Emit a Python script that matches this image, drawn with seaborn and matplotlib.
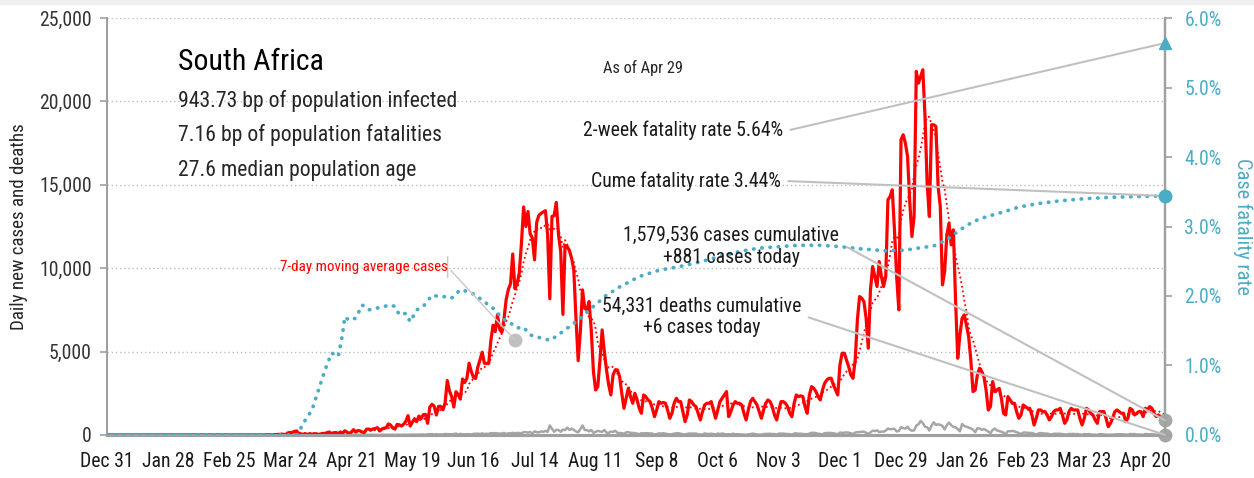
import matplotlib
matplotlib.use("Agg")
import matplotlib.pyplot as plt
import matplotlib.dates as mdates
from matplotlib import font_manager
from matplotlib.patches import Rectangle
import pandas as pd
import seaborn as sns

# ---------------------------------------------------------------------------
# Data: South Africa, daily series starting 2019-12-31
# ---------------------------------------------------------------------------
series_start = "2019-12-31"

daily_cases = [
    0, 0, 0, 0, 0, 0, 0,
    0, 0, 0, 0, 0, 0, 0,
    0, 0, 0, 0, 0, 0, 0,
    0, 0, 0, 0, 0, 0, 0,
    0, 0, 0, 0, 0, 0, 0,
    0, 0, 0, 0, 0, 0, 0,
    0, 0, 0, 0, 0, 0, 0,
    0, 0, 0, 0, 0, 0, 0,
    0, 0, 0, 0, 0, 0, 0,
    0, 0, 1, 0, 1, 1, 4,
    0, 6, 3, 8, 7, 13, 11,
    23, 31, 34, 52, 38, 33, 128,
    152, 155, 218, 243, 17, 63, 46,
    70, 27, 82, 43, 80, 70, 31,
    63, 96, 89, 151, 178, 64, 143,
    143, 91, 178, 99, 251, 178, 89,
    165, 318, 175, 267, 247, 173, 148,
    349, 354, 297, 365, 385, 439, 240,
    352, 416, 424, 663, 595, 418, 353,
    633, 611, 538, 649, 818, 1160, 541,
    767, 975, 803, 1134, 988, 1218, 1240,
    700, 1673, 1837, 1727, 1197, 1716, 1716,
    1512, 1913, 3267, 2642, 2312, 1674, 2594,
    2430, 2150, 3359, 3147, 3400, 4302, 3809,
    3454, 3388, 4078, 4500, 4966, 4302, 4288,
    4300, 5688, 6579, 6202, 7210, 6334, 6150,
    6945, 8124, 8728, 9063, 10853, 8773, 9063,
    9700, 11500, 13674, 12500, 13400, 12058, 11800,
    10500, 12757, 13172, 13285, 13373, 13449, 12000,
    8170, 13104, 13150, 13944, 12000, 11000, 7232,
    11362, 11300, 11046, 10600, 9900, 7000, 4456,
    6200, 8700, 7600, 7500, 8000, 6300, 3800,
    2700, 2900, 4500, 6300, 5000, 3900, 3000,
    2400, 3600, 3900, 3900, 3500, 2500, 1600,
    2200, 2800, 2300, 1900, 2500, 2100, 1600,
    1300, 2400, 2300, 2100, 2000, 1600, 1100,
    1500, 2000, 1900, 1950, 1900, 1500, 1000,
    1300, 1900, 2200, 2000, 2000, 1400, 800,
    1200, 2100, 2000, 1800, 1700, 1300, 900,
    1400, 1800, 1900, 1900, 2000, 1500, 1000,
    1500, 2000, 2200, 2400, 2600, 1100, 1400,
    1800, 2000, 1900, 1900, 1800, 1300, 900,
    1500, 2000, 2200, 2000, 1800, 1400, 1000,
    1500, 1900, 2100, 2000, 1700, 1200, 900,
    1500, 2000, 2000, 1900, 1700, 1300, 1100,
    1900, 2400, 2300, 2350, 2300, 1700, 1300,
    2400, 2900, 2800, 2600, 2300, 2100, 2700,
    3100, 3300, 3400, 3400, 3000, 2700, 2400,
    4200, 4900, 4900, 4500, 4100, 3600, 3400,
    4500, 6900, 8300, 8200, 8000, 7000, 5200,
    8700, 10100, 9500, 8900, 10400, 9500, 8900,
    9500, 14100, 14300, 14700, 12300, 9500, 7500,
    17700, 18000, 17500, 16700, 14000, 11900, 13100,
    21800, 21100, 21500, 21900, 19100, 15000, 13100,
    18600, 18600, 18500, 14900, 13700, 9000, 9800,
    12000, 12700, 11400, 12300, 8100, 4600, 6000,
    7000, 7200, 6600, 5900, 4500, 2600, 2700,
    3600, 4000, 3800, 3500, 2700, 1500, 1700,
    3200, 2600, 2700, 2800, 2200, 1300, 1200,
    2300, 2100, 1900, 1900, 1400, 1000, 1200,
    1800, 1700, 1600, 1600, 1200, 600, 1000,
    1500, 1500, 1400, 1400, 1200, 900, 1100,
    1400, 1500, 1500, 1600, 1200, 700, 900,
    1400, 1600, 1500, 1500, 1500, 1000, 600,
    1000, 1600, 1500, 1300, 1200, 900, 700,
    1400, 1400, 1400, 1000, 500, 700, 1000,
    1400, 1500, 1400, 1300, 1300, 800, 1000,
    1600, 1500, 1200, 1300, 1400, 1400, 1100,
    1600, 1500, 1700, 1600, 1300, 1100, 1200,
    1100, 1000, 881,
]

daily_deaths = [
    0, 0, 0, 0, 0, 0, 0,
    0, 0, 0, 0, 0, 0, 0,
    0, 0, 0, 0, 0, 0, 0,
    0, 0, 0, 0, 0, 0, 0,
    0, 0, 0, 0, 0, 0, 0,
    0, 0, 0, 0, 0, 0, 0,
    0, 0, 0, 0, 0, 0, 0,
    0, 0, 0, 0, 0, 0, 0,
    0, 0, 0, 0, 0, 0, 0,
    0, 0, 0, 0, 0, 0, 0,
    0, 0, 0, 0, 0, 0, 0,
    0, 0, 0, 0, 0, 0, 0,
    0, 0, 0, 1, 0, 1, 1,
    2, 0, 4, 2, 2, 0, 1,
    6, 5, 0, 7, 2, 0, 2,
    2, 14, 7, 0, 2, 0, 8,
    2, 4, 4, 15, 5, 0, 9,
    7, 6, 16, 7, 8, 10, 0,
    17, 7, 9, 15, 12, 11, 0,
    13, 10, 8, 12, 19, 10, 18,
    22, 17, 19, 27, 23, 30, 17,
    40, 48, 52, 28, 46, 28, 35,
    37, 57, 50, 42, 40, 53, 82,
    23, 69, 47, 40, 43, 48, 26,
    70, 75, 74, 61, 94, 59, 73,
    64, 111, 94, 116, 87, 91, 83,
    121, 66, 99, 104, 130, 94, 123,
    116, 100, 176, 171, 143, 179, 89,
    216, 170, 154, 216, 188, 246, 183,
    572, 373, 193, 315, 298, 189, 318,
    298, 443, 300, 382, 306, 213, 160,
    345, 572, 302, 292, 220, 301, 130,
    182, 250, 213, 186, 301, 137, 130,
    207, 182, 257, 124, 120, 111, 76,
    158, 171, 128, 124, 104, 85, 41,
    114, 93, 110, 99, 91, 85, 30,
    53, 97, 82, 104, 79, 58, 32,
    51, 82, 99, 109, 74, 39, 27,
    66, 86, 84, 86, 84, 52, 21,
    27, 94, 64, 55, 78, 56, 27,
    88, 51, 89, 58, 34, 50, 30,
    77, 42, 52, 40, 36, 24, 10,
    42, 53, 81, 54, 32, 20, 17,
    59, 63, 66, 71, 55, 55, 20,
    79, 78, 82, 64, 58, 47, 23,
    84, 99, 73, 75, 61, 55, 43,
    84, 132, 130, 113, 72, 58, 34,
    111, 116, 121, 118, 100, 74, 42,
    146, 124, 136, 153, 138, 95, 64,
    143, 167, 176, 192, 200, 134, 65,
    157, 260, 231, 276, 171, 203, 199,
    260, 388, 339, 361, 370, 214, 240,
    465, 410, 384, 497, 333, 250, 282,
    566, 639, 844, 712, 497, 460, 267,
    570, 755, 606, 640, 612, 540, 332,
    597, 739, 592, 480, 460, 350, 220,
    659, 533, 498, 441, 400, 315, 168,
    402, 391, 308, 357, 285, 205, 109,
    305, 382, 273, 235, 195, 138, 67,
    227, 223, 242, 217, 164, 120, 48,
    143, 150, 127, 119, 117, 75, 28,
    90, 116, 104, 83, 85, 55, 19,
    74, 74, 71, 70, 59, 44, 19,
    66, 56, 68, 49, 53, 29, 11,
    49, 46, 56, 39, 17, 16, 8,
    50, 50, 32, 15, 16, 16, 17,
    31, 42, 45, 49, 36, 31, 9,
    59, 48, 54, 31, 26, 28, 7,
    58, 48, 36, 57, 34, 22, 10,
    36, 28, 6,
]

# Cumulative case fatality rate (%)
cfr_dates = [
    "2019-12-31", "2020-03-27", "2020-03-28", "2020-03-31", "2020-04-03",
    "2020-04-06", "2020-04-09", "2020-04-12", "2020-04-15", "2020-04-17",
    "2020-04-18", "2020-04-20", "2020-04-23", "2020-04-26", "2020-04-29",
    "2020-05-02", "2020-05-06", "2020-05-09", "2020-05-11", "2020-05-13",
    "2020-05-16", "2020-05-18", "2020-05-21", "2020-05-24", "2020-05-28",
    "2020-06-01", "2020-06-04", "2020-06-06", "2020-06-10", "2020-06-14",
    "2020-06-17", "2020-06-20", "2020-06-23", "2020-06-26", "2020-06-29",
    "2020-07-03", "2020-07-06", "2020-07-09", "2020-07-12", "2020-07-15",
    "2020-07-18", "2020-07-21", "2020-07-24", "2020-07-27", "2020-07-30",
    "2020-08-02", "2020-08-05", "2020-08-08", "2020-08-12", "2020-08-15",
    "2020-08-22", "2020-08-31", "2020-09-09", "2020-09-18", "2020-09-28",
    "2020-10-07", "2020-10-16", "2020-10-25", "2020-11-03", "2020-11-12",
    "2020-11-22", "2020-12-01", "2020-12-10", "2020-12-22", "2020-12-31",
    "2021-01-06", "2021-01-13", "2021-01-19", "2021-01-25", "2021-01-31",
    "2021-02-06", "2021-02-14", "2021-02-21", "2021-03-02", "2021-03-12",
    "2021-03-23", "2021-04-04", "2021-04-16", "2021-04-29",
]
cfr_values = [
    0.00, 0.00, 0.05, 0.22, 0.36,
    0.65, 0.94, 1.18, 1.13, 1.45,
    1.70, 1.65, 1.68, 1.87, 1.80,
    1.82, 1.85, 1.87, 1.85, 1.73,
    1.75, 1.63, 1.80, 1.85, 2.01,
    1.99, 1.99, 1.97, 2.09, 2.06,
    2.01, 1.94, 1.87, 1.80, 1.68,
    1.61, 1.54, 1.55, 1.44, 1.41,
    1.39, 1.36, 1.42, 1.49, 1.56,
    1.63, 1.70, 1.80, 1.90, 1.99,
    2.13, 2.28, 2.37, 2.42, 2.49,
    2.57, 2.64, 2.69, 2.71, 2.73,
    2.73, 2.71, 2.68, 2.65, 2.66,
    2.69, 2.72, 2.81, 2.95, 3.07,
    3.14, 3.21, 3.28, 3.33, 3.37,
    3.40, 3.42, 3.43, 3.44,
]

two_week_fatality_rate = 5.64
cume_fatality_rate = 3.44
cases_cumulative = 1579536
deaths_cumulative = 54331

country = "South Africa"
info_lines = [
    "943.73 bp of population infected",
    "7.16 bp of population fatalities",
    "27.6 median population age",
]
as_of = "As of Apr 29"

tick_dates = [
    "2019-12-31", "2020-01-28", "2020-02-25", "2020-03-24", "2020-04-21",
    "2020-05-19", "2020-06-16", "2020-07-14", "2020-08-11", "2020-09-08",
    "2020-10-06", "2020-11-03", "2020-12-01", "2020-12-29", "2021-01-26",
    "2021-02-23", "2021-03-23", "2021-04-20",
]
tick_labels = [
    "Dec 31", "Jan 28", "Feb 25", "Mar 24", "Apr 21", "May 19", "Jun 16",
    "Jul 14", "Aug 11", "Sep 8", "Oct 6", "Nov 3", "Dec 1", "Dec 29",
    "Jan 26", "Feb 23", "Mar 23", "Apr 20",
]
count_ticks = [0, 5000, 10000, 15000, 20000, 25000]
rate_ticks = [0, 1, 2, 3, 4, 5, 6]

# ---------------------------------------------------------------------------
# Frames
# ---------------------------------------------------------------------------
daily = pd.DataFrame({
    "date": pd.date_range(series_start, periods=len(daily_cases), freq="D"),
    "cases": daily_cases,
    "deaths": daily_deaths,
})
daily["cases_ma7"] = daily["cases"].rolling(7, min_periods=1).mean()
cfr = pd.DataFrame({"date": pd.to_datetime(cfr_dates), "rate": cfr_values})
last_day = daily["date"].iloc[-1]
last_x = mdates.date2num(last_day)

# ---------------------------------------------------------------------------
# Style: prefer a condensed face, otherwise a regular one at reduced size
# ---------------------------------------------------------------------------
sns.set_style("white")
installed = {f.name for f in font_manager.fontManager.ttflist}
face, fs = "Liberation Sans", 0.82
for cand, scale in (("Roboto Condensed", 0.98), ("Liberation Sans Narrow", 1.0),
                    ("Open Sans Condensed", 1.0)):
    if cand in installed:
        face, fs = cand, scale
        break
plt.rcParams["font.family"] = [face, "DejaVu Sans"]


def sz(v):
    return v * fs


RED = "#ff0000"
BLUE = "#4bacc6"
GRAY = "#a6a6a6"
LEADER = "#c0c0c0"
AXIS = "#a0a0a0"
INK = "#1a1a1a"

fig = plt.figure(figsize=(12.54, 4.78), dpi=100, facecolor="white")
fig.patches.append(Rectangle((0, 0.989), 1, 0.011, transform=fig.transFigure,
                             facecolor="#f0f0f0", edgecolor="none", zorder=0))
ax = fig.add_axes([0.0853, 0.0900, 0.8437, 0.8723])
ax2 = ax.twinx()
ax.set_zorder(1)
ax2.set_zorder(2)
ax.patch.set_visible(False)
ax2.patch.set_visible(False)

# Daily cases, 7-day average and deaths
sns.lineplot(data=daily, x="date", y="cases", ax=ax, color=RED, lw=2.3,
             zorder=3)
sns.lineplot(data=daily, x="date", y="cases_ma7", ax=ax, color=RED, lw=1.3,
             linestyle=(0, (1, 1.6)), zorder=4)
sns.lineplot(data=daily, x="date", y="deaths", ax=ax, color=GRAY, lw=1.8,
             zorder=2)

# Fatality rate
sns.lineplot(data=cfr, x="date", y="rate", ax=ax2, color=BLUE, lw=2.7,
             linestyle=(0, (0.1, 2.1)), dash_capstyle="round", zorder=3)

# End-of-series markers
ax.plot([last_day], [daily_cases[-1]], marker="o", ms=9, color=GRAY,
        clip_on=False, zorder=6)
ax.plot([last_day], [daily_deaths[-1]], marker="o", ms=9, color=GRAY,
        clip_on=False, zorder=6)
ax2.plot([last_day], [cume_fatality_rate], marker="o", ms=9, color=BLUE,
         clip_on=False, zorder=6)
ax2.plot([last_day], [two_week_fatality_rate], marker="^", ms=9, color=BLUE,
         clip_on=False, zorder=6)

# Axes limits, ticks and grid
ax.set_xlim(pd.Timestamp(series_start), last_day)
ax.set_ylim(0, 25000)
ax2.set_ylim(0, 6)
ax.set_xticks(pd.to_datetime(tick_dates))
ax.set_xticklabels(tick_labels)
ax.set_yticks(count_ticks)
ax.set_yticklabels([f"{v:,}" for v in count_ticks])
ax2.set_yticks(rate_ticks)
ax2.set_yticklabels([f"{v:.1f}%" for v in rate_ticks])

for v in count_ticks[1:]:
    ax.axhline(v, color="#bdbdbd", lw=1.0, linestyle=(0, (1, 2)), zorder=1)

ax.set_xlabel("")
ax.set_ylabel("Daily new cases and deaths", fontsize=sz(14), color="#262626",
              labelpad=8)
ax2.set_ylabel("Case fatality rate", fontsize=sz(15), color=BLUE,
               rotation=270, labelpad=22)

ax.tick_params(axis="x", length=6, width=1.4, color=AXIS, labelsize=sz(14.5),
               labelcolor=INK, pad=6)
ax.tick_params(axis="y", length=5, width=1.2, color=AXIS, labelsize=sz(14.5),
               labelcolor="#333333", pad=6, left=True)
ax2.tick_params(axis="y", length=5, width=1.2, color=AXIS, labelsize=sz(14.5),
                labelcolor=BLUE, pad=9, right=True)

for a in (ax, ax2):
    a.spines["top"].set_visible(False)
    a.spines["left"].set_color(AXIS)
    a.spines["right"].set_color(AXIS)
    a.spines["bottom"].set_color(AXIS)
    a.spines["left"].set_linewidth(1.4)
    a.spines["right"].set_linewidth(1.6)
    a.spines["bottom"].set_linewidth(2.2)

# Headline block
ax2.text(0.0671, 0.894, country, transform=ax2.transAxes, fontsize=sz(22),
         color="black", va="center", ha="left")
for y, line in zip([0.801, 0.719, 0.635], info_lines):
    ax2.text(0.0671, y, line, transform=ax2.transAxes, fontsize=sz(16),
             color="#262626", va="center", ha="left")
ax2.text(0.469, 0.880, as_of, transform=ax2.transAxes, fontsize=sz(12),
         color="#262626", va="center", ha="left")


# Leader-line annotations
def leader(text, xy, transform, xytext, ha="right", arm=6, lw=1.5):
    ax2.annotate(
        text, xy=xy, xycoords=transform, xytext=xytext,
        textcoords="axes fraction", ha=ha, va="center", fontsize=sz(14.5),
        color=INK, multialignment="center", annotation_clip=False,
        arrowprops=dict(arrowstyle="-", color=LEADER, lw=lw, shrinkA=3,
                        shrinkB=0, relpos=(1, 0.5),
                        connectionstyle=f"arc,angleA=0,armA={arm},"
                                        "angleB=0,armB=0,rad=0"),
        zorder=5)


leader(f"2-week fatality rate {two_week_fatality_rate:.2f}%",
       (last_x, two_week_fatality_rate), ax2.transData, (0.639, 0.731))
leader(f"Cume fatality rate {cume_fatality_rate:.2f}%",
       (last_x, cume_fatality_rate), ax2.transData, (0.637, 0.609))
leader(f"{cases_cumulative:,} cases cumulative\n+{daily_cases[-1]:,} cases today",
       (last_x, daily_cases[-1]), ax.transData, (0.590, 0.453), ha="center")
leader(f"{deaths_cumulative:,} deaths cumulative\n+{daily_deaths[-1]:,} cases today",
       (last_x, daily_deaths[-1]), ax.transData, (0.562, 0.283), ha="center")

# Moving-average label with its pointer (short vertical bracket, then diagonal)
ma_anchor = (mdates.date2num(pd.Timestamp("2020-07-05")), 5700)
ax.plot([ma_anchor[0]], [ma_anchor[1]], marker="o", ms=9, color="#c0c0c0",
        zorder=6)
ma_label = ax2.annotate(
    "7-day moving average cases", xy=ma_anchor, xycoords=ax.transData,
    xytext=(0.322, 0.403), textcoords="axes fraction", ha="right",
    va="center", fontsize=sz(11), color=RED,
    arrowprops=dict(arrowstyle="-", color="#c8c8c8", lw=1.0, shrinkA=0,
                    shrinkB=0, relpos=(1, 0.5)),
    zorder=5)
ax2.annotate("", xy=(0.322, 0.378), xycoords="axes fraction",
             xytext=(0.322, 0.428), textcoords="axes fraction",
             arrowprops=dict(arrowstyle="-", color="#c8c8c8", lw=1.0,
                             shrinkA=0, shrinkB=0))

fig.savefig("out.png", dpi=100, facecolor="white")
